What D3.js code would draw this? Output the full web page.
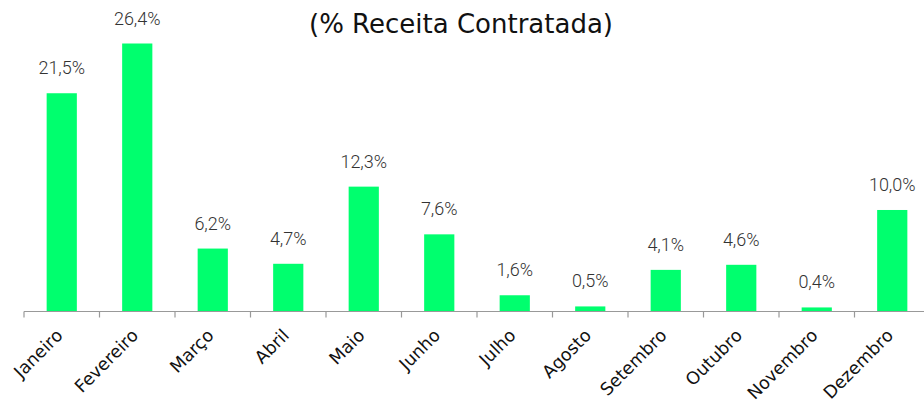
<!DOCTYPE html>
<html><head><meta charset="utf-8">
<script src="https://cdn.jsdelivr.net/npm/d3@7"></script>
<style>
html,body{margin:0;padding:0;background:#fff;}
</style></head>
<body>
<svg id="chart" width="924" height="403"></svg>
<script>
const title = "(% Receita Contratada)";
const categories = ["Janeiro","Fevereiro","Março","Abril","Maio","Junho","Julho","Agosto","Setembro","Outubro","Novembro","Dezembro"];
const values = [21.5,26.4,6.2,4.7,12.3,7.6,1.6,0.5,4.1,4.6,0.4,10.0];
const labels = ["21,5%","26,4%","6,2%","4,7%","12,3%","7,6%","1,6%","0,5%","4,1%","4,6%","0,4%","10,0%"];

const svg = d3.select("#chart");
const baseY = 311.5;
const x = d3.scaleBand().domain(categories).range([24, 930]).paddingInner(0.6).paddingOuter(0.3);
const y = d3.scaleLinear().domain([0, 26.4]).range([baseY, 43.5]);

svg.append("text").attr("x", 461).attr("y", 33).attr("text-anchor","middle")
  .attr("font-family","'DejaVu Sans', sans-serif").attr("font-size", 26).attr("fill","#111")
  .text(title);

svg.selectAll("rect.bar").data(values).enter().append("rect")
  .attr("x",(d,i)=>x(categories[i])).attr("width",x.bandwidth())
  .attr("y",d=>y(d)).attr("height",d=>baseY-y(d)).attr("fill","#00FF6E");

svg.selectAll("text.val").data(values).enter().append("text")
  .attr("x",(d,i)=>x(categories[i])+x.bandwidth()/2).attr("y",d=>y(d)-19)
  .attr("text-anchor","middle").attr("font-family","Roboto, sans-serif").attr("font-weight",300)
  .attr("font-size",18).attr("fill","#333").text((d,i)=>labels[i]);

// axis
const ax = d3.scaleBand().domain(categories).range([24, 930]);
const g = svg.append("g").attr("transform",`translate(0,${baseY})`);
g.append("line").attr("x1",24).attr("x2",930).attr("stroke","#999").attr("stroke-width",1.2);
g.selectAll("line.tick").data(categories).enter().append("line")
  .attr("x1",d=>ax(d)).attr("x2",d=>ax(d)).attr("y1",0).attr("y2",6).attr("stroke","#999").attr("stroke-width",1.2);

g.selectAll("text.cat").data(categories).enter().append("text")
  .attr("text-anchor","end").attr("font-family","'DejaVu Sans', sans-serif").attr("font-size",17.5).attr("fill","#111")
  .attr("transform",d=>`translate(${x(d)+x.bandwidth()/2+2},${25}) rotate(-45)`)
  .text(d=>d);
</script>
</body></html>
